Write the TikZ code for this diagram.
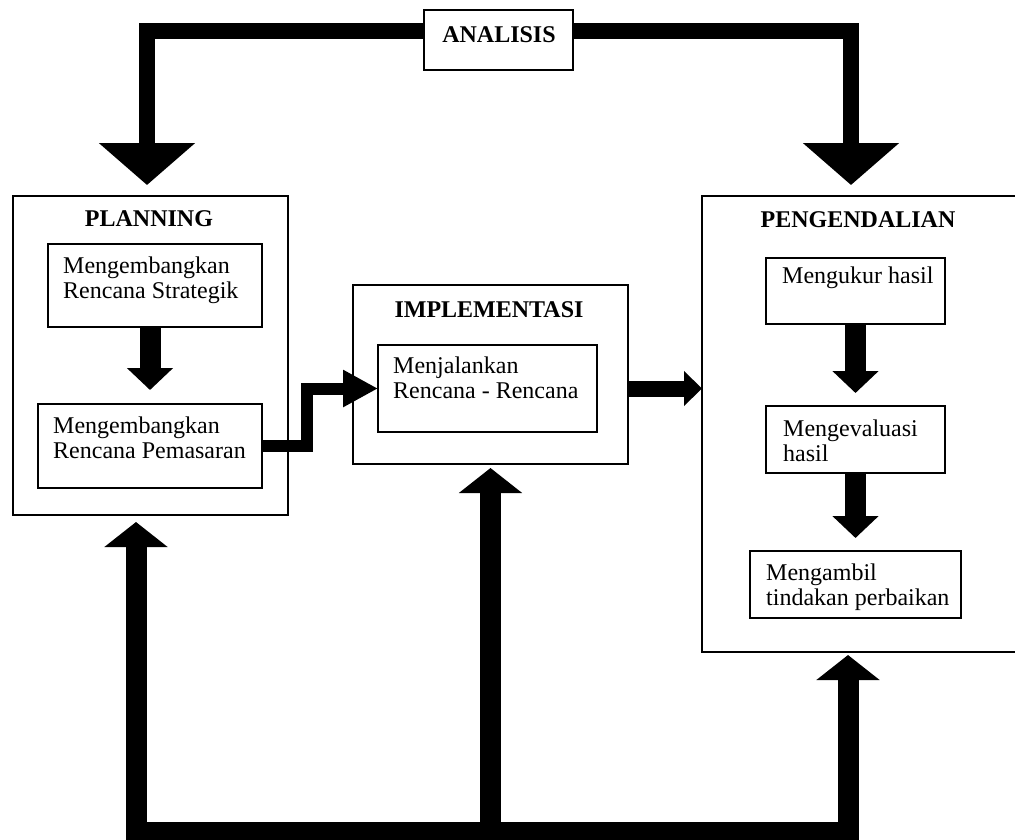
\documentclass[tikz,border=0pt]{standalone}
\usepackage{fontspec}
\setmainfont{Liberation Serif}
\usetikzlibrary{arrows.meta}

\begin{document}
\begin{tikzpicture}[x=1pt,y=-1pt,
    panel/.style={draw, line width=1.5pt, inner sep=0pt, outer sep=0pt, anchor=north west},
    heading/.style={font=\fontsize{24}{25}\selectfont\bfseries, inner sep=0pt, anchor=base},
    boxtext/.style={font=\fontsize{24}{24.5}\selectfont, align=left, inner sep=0pt, anchor=north west},
    toparrow/.style={line width=16pt, -{Triangle[length=42pt,width=94pt]}},
    inarrow/.style={line width=21pt, -{Triangle[length=22pt,width=45pt]}},
    steparrow/.style={line width=12pt, -{Triangle[length=35pt,width=35pt]}},
    sidearrow/.style={line width=16pt, -{Triangle[length=18pt,width=34pt]}},
    looparrow/.style={line width=21pt, -{Triangle[length=25pt,width=62pt]}}]

  \useasboundingbox (0,0) rectangle (1015,839);
  \clip (0,0) rectangle (1015,839);

  % Analisis
  \node[panel, minimum width=149pt, minimum height=60pt] (analisis) at (424,10) {};
  \node[heading] (analisisT) at (499,42) {ANALISIS};

  % Planning
  \node[panel, minimum width=275pt, minimum height=319pt] (plan) at (13,196) {};
  \node[heading] (planT) at (149,226) {PLANNING};
  \node[panel, minimum width=214pt, minimum height=83pt] (strat) at (48,244) {};
  \node[boxtext] (stratT) at (63,257) {Mengembangkan\\Rencana Strategik};
  \node[panel, minimum width=224pt, minimum height=84pt] (pasar) at (38,404) {};
  \node[boxtext] (pasarT) at (53,417) {Mengembangkan\\Rencana Pemasaran};

  % Implementasi
  \node[panel, minimum width=275pt, minimum height=179pt] (impl) at (353,285) {};
  \node[heading] (implT) at (489,317) {IMPLEMENTASI};
  \node[panel, minimum width=219pt, minimum height=87pt] (jalan) at (378,345) {};
  \node[boxtext] (jalanT) at (393,357) {Menjalankan\\Rencana - Rencana};

  % Pengendalian
  \node[panel, minimum width=320pt, minimum height=456pt] (peng) at (702,196) {};
  \node[heading] (pengT) at (858,227) {PENGENDALIAN};
  \node[panel, minimum width=179pt, minimum height=66pt] (ukur) at (766,258) {};
  \node[boxtext] (ukurT) at (782,267) {Mengukur hasil};
  \node[panel, minimum width=179pt, minimum height=67pt] (eval) at (766,406) {};
  \node[boxtext] (evalT) at (783,420) {Mengevaluasi\\hasil};
  \node[panel, minimum width=211pt, minimum height=67pt] (ambil) at (750,551) {};
  \node[boxtext] (ambilT) at (766,564) {Mengambil\\tindakan perbaikan};

  % Analisis ke planning dan pengendalian
  \draw[toparrow] ([yshift=9pt]analisis.west) -| ([xshift=-3.5pt,yshift=11pt]plan.north);
  \draw[toparrow] ([yshift=9pt]analisis.east) -| ([xshift=-11pt,yshift=11pt]peng.north);

  % Panah di dalam blok
  \draw[inarrow] (strat.south -| pasar.north) -- ([yshift=14pt]pasar.north);
  \draw[inarrow] (ukur.south) -- ([yshift=13pt]eval.north);
  \draw[inarrow] (eval.south) -- ([yshift=13pt]ambil.north);

  % Planning ke implementasi ke pengendalian
  \draw[steparrow] (pasar.east) -- ++(45pt,0) |- (jalan.west);
  \draw[sidearrow] (jalan.east -| impl.east) -- (jalan.east -| peng.west);

  % Umpan balik bawah
  \coordinate (hub) at (490.5,832);
  \coordinate (planIn) at (136,522);
  \coordinate (pengIn) at (848,655);
  \draw[looparrow] (hub) -| (planIn);
  \draw[looparrow] (hub) -- ([yshift=-4pt]impl.south);
  \draw[looparrow] (hub) -| (pengIn);
\end{tikzpicture}
\end{document}
